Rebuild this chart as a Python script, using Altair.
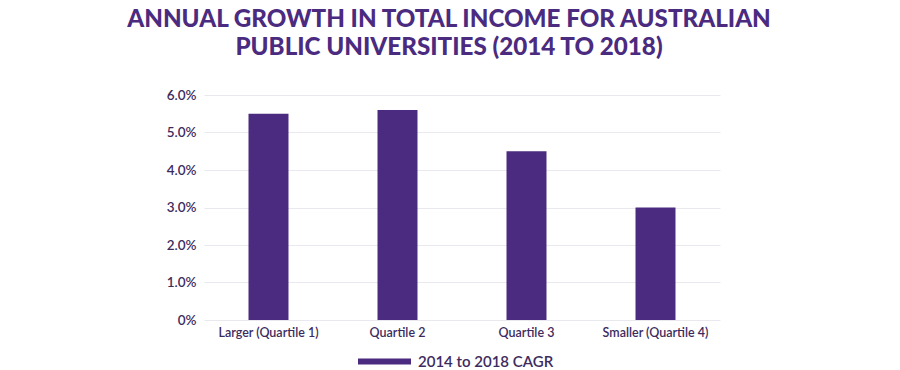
import altair as alt
import pandas as pd

categories = ["Larger (Quartile 1)", "Quartile 2", "Quartile 3", "Smaller (Quartile 4)"]
cagr = [0.055, 0.056, 0.045, 0.030]
series_name = "2014 to 2018 CAGR"
y_ticks = [0, 0.01, 0.02, 0.03, 0.04, 0.05, 0.06]

df = pd.DataFrame({"category": categories, "value": cagr, "series": [series_name] * len(categories)})

purple = "#4b2b7f"
label_col = "#3d2b5e"
font = "Lato"

chart = alt.Chart(df).mark_bar(color=purple).encode(
    x=alt.X("category:N", sort=categories,
            scale=alt.Scale(paddingInner=0.69, paddingOuter=0.345),
            axis=alt.Axis(title=None, labelAngle=0, domain=False, ticks=False,
                          labelPadding=6, labelFontSize=12.5, labelColor=label_col,
                          labelFont=font, labelFontWeight=600)),
    y=alt.Y("value:Q", scale=alt.Scale(domain=[0, 0.06], nice=False),
            axis=alt.Axis(title=None, values=y_ticks, domain=False, ticks=False,
                          labelExpr="datum.value == 0 ? '0%' : format(datum.value, '.1%')",
                          labelPadding=8, labelFontSize=13.5, labelColor=label_col,
                          labelFont=font, labelFontWeight=600,
                          grid=True, gridColor="#e9e8ee", gridWidth=1.2)),
    color=alt.Color("series:N", scale=alt.Scale(range=[purple]),
                    legend=alt.Legend(title=None, orient="none", legendX=154, legendY=240,
                                      symbolType="M-1,-0.113H1V0.113H-1Z", symbolSize=2809,
                                      symbolStrokeWidth=0, labelOffset=7, labelFontSize=15,
                                      labelColor=label_col, labelFont=font, labelFontWeight=600,
                                      padding=0)),
).properties(
    width=516,
    height=225,
    autosize=alt.AutoSizeParams(type="none"),
    padding={"left": 196, "top": 87, "right": 172, "bottom": 52},
    title=alt.TitleParams(
        ["ANNUAL GROWTH IN TOTAL INCOME FOR AUSTRALIAN", "PUBLIC UNIVERSITIES (2014 TO 2018)"],
        anchor="middle", dx=-13, offset=28, fontSize=24.2, font=font, fontWeight=900,
        color=purple, lineHeight=28,
    ),
).configure_view(stroke=None)

chart.save("out.html", embed_options={"renderer": "svg", "actions": False})
